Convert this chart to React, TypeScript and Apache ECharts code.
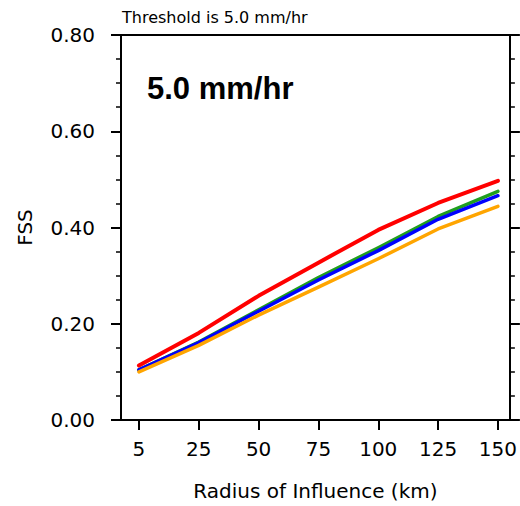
import React, { useEffect, useRef } from "react";
import * as echarts from "echarts";

const categories = ["5", "25", "50", "75", "100", "125", "150"];
const redValues = [0.113, 0.181, 0.258, 0.327, 0.395, 0.451, 0.497];
const greenValues = [0.104, 0.162, 0.229, 0.296, 0.358, 0.423, 0.475];
const blueValues = [0.104, 0.161, 0.226, 0.291, 0.352, 0.417, 0.466];
const orangeValues = [0.1, 0.155, 0.218, 0.276, 0.335, 0.397, 0.444];
const yTicks = [0, 0.2, 0.4, 0.6, 0.8];

const FONT = "'DejaVu Sans', sans-serif";

export default function App() {
  const ref = useRef<HTMLDivElement>(null);
  useEffect(() => {
    if (!ref.current) return;
    const chart = echarts.init(ref.current, null, { renderer: "svg" });
    const idx = categories.map((_, i) => i);
    const mk = (name: string, vals: number[], color: string, width: number) => ({
      name,
      type: "line",
      data: vals.map((v, i) => [i, v]),
      showSymbol: false,
      symbol: "none",
      lineStyle: { color, width, cap: "round", join: "round" },
      itemStyle: { color },
      z: 3,
    });
    chart.setOption({
      animation: false,
      backgroundColor: "#ffffff",
      grid: { left: 121, right: 9, top: 35, bottom: 82, containLabel: false },
      graphic: [
        {
          type: "text",
          left: 122,
          top: 9,
          style: { text: "Threshold is 5.0 mm/hr", font: `16px ${FONT}`, fill: "#000" },
        },
        {
          type: "text",
          left: 147,
          top: 73,
          style: { text: "5.0 mm/hr", font: "bold 31px 'Liberation Sans', Arial, sans-serif", fill: "#000" },
        },
      ],
      xAxis: [
        {
          type: "value",
          position: "bottom",
          min: -0.3,
          max: 6.2,
          name: "Radius of Influence (km)",
          nameLocation: "middle",
          nameGap: 61,
          nameTextStyle: { fontFamily: FONT, fontSize: 20, color: "#000" },
          axisLine: { show: true, onZero: false, lineStyle: { color: "#000", width: 2 } },
          axisTick: { show: true, inside: false, length: 10, customValues: idx, lineStyle: { color: "#000", width: 2 } },
          axisLabel: {
            show: true,
            customValues: idx,
            margin: 19,
            fontFamily: FONT,
            fontSize: 20,
            color: "#000",
            formatter: (v: number) => categories[Math.round(v)] ?? "",
          },
          splitLine: { show: false },
        },
        {
          type: "value",
          position: "top",
          min: -0.3,
          max: 6.2,
          axisLine: { show: true, onZero: false, lineStyle: { color: "#000", width: 2 } },
          axisTick: { show: false },
          axisLabel: { show: false },
          splitLine: { show: false },
        },
      ],
      yAxis: [
        {
          type: "value",
          position: "left",
          min: 0,
          max: 0.8,
          interval: 0.2,
          name: "FSS",
          nameLocation: "middle",
          nameGap: 86,
          nameTextStyle: { fontFamily: FONT, fontSize: 20, color: "#000" },
          axisLine: { show: true, onZero: false, lineStyle: { color: "#000", width: 2 } },
          axisTick: { show: true, inside: false, length: 10, lineStyle: { color: "#000", width: 2 } },
          minorTick: { show: true, splitNumber: 4, length: 5, lineStyle: { color: "#000", width: 1.5 } },
          axisLabel: {
            margin: 26,
            fontFamily: FONT,
            fontSize: 20,
            color: "#000",
            formatter: (v: number) => (yTicks.some((t) => Math.abs(t - v) < 1e-6) ? v.toFixed(2) : ""),
          },
          splitLine: { show: false },
        },
        {
          type: "value",
          position: "right",
          min: 0,
          max: 0.8,
          interval: 0.2,
          axisLine: { show: true, onZero: false, lineStyle: { color: "#000", width: 2 } },
          axisTick: { show: true, inside: false, length: 10, lineStyle: { color: "#000", width: 2 } },
          minorTick: { show: true, splitNumber: 4, length: 5, lineStyle: { color: "#000", width: 1.5 } },
          axisLabel: { show: false },
          splitLine: { show: false },
        },
      ],
      series: [
        mk("red", redValues, "#ff0000", 4),
        mk("green", greenValues, "#1f9e1f", 3.5),
        mk("blue", blueValues, "#0000ff", 3.5),
        mk("orange", orangeValues, "#ffa500", 3.5),
      ],
    });
    return () => chart.dispose();
  }, []);
  return <div ref={ref} style={{ width: 520, height: 506, position: "absolute", left: 0, top: 0 }} />;
}
